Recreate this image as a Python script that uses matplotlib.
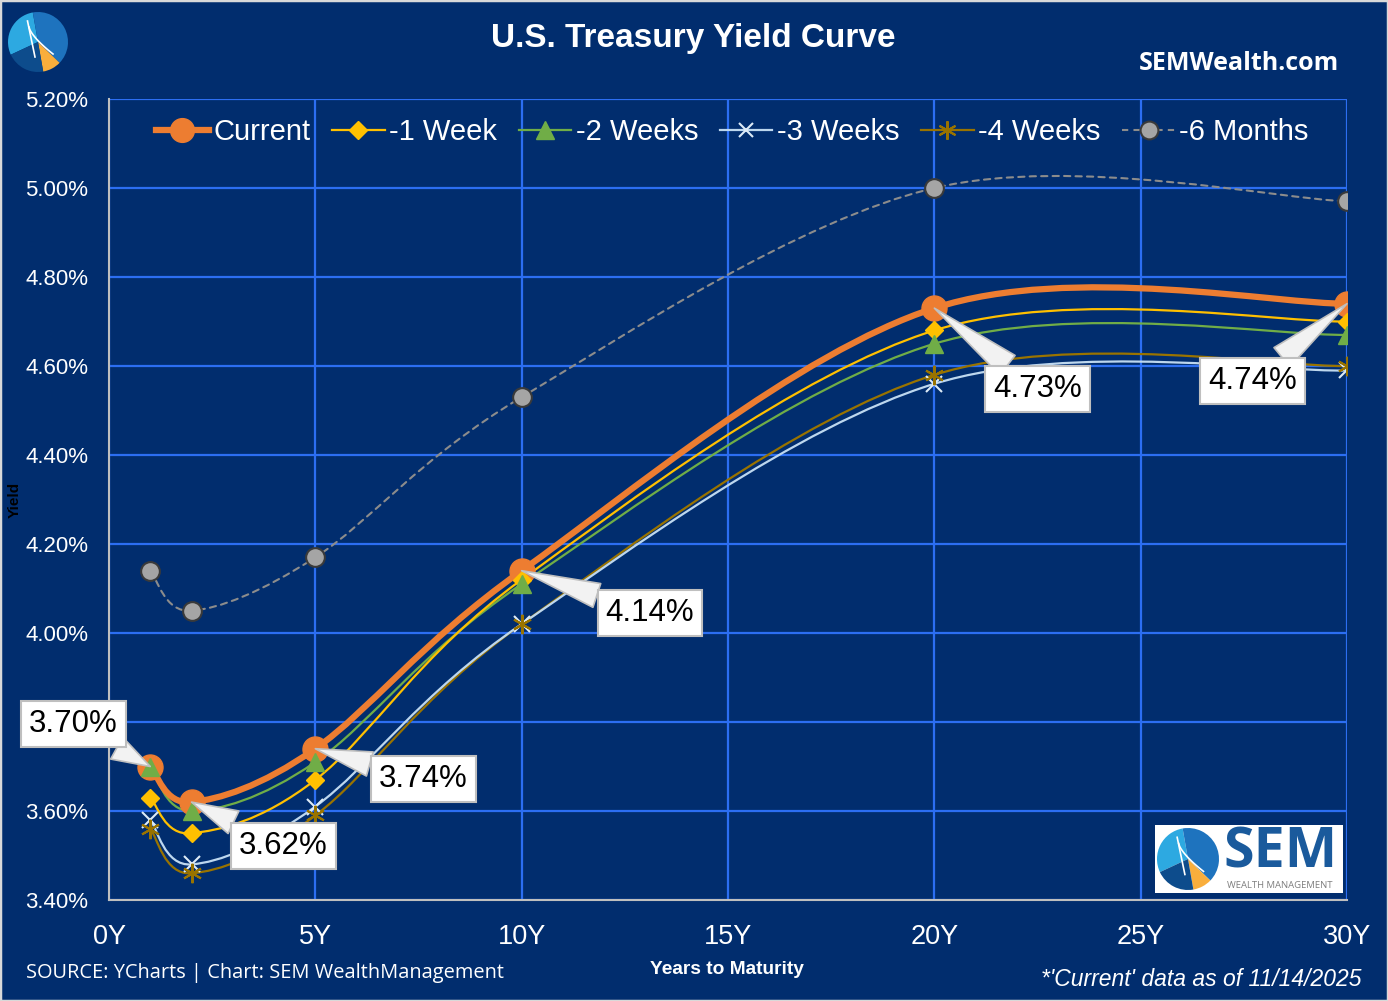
import matplotlib
matplotlib.use("Agg")
import matplotlib.pyplot as plt
import numpy as np
from matplotlib.path import Path
from matplotlib.patches import PathPatch, Wedge, Rectangle
from matplotlib.lines import Line2D

# ---------------- data ----------------
maturities = [1, 2, 5, 10, 20, 30]
current = [3.70, 3.62, 3.74, 4.14, 4.73, 4.74]
week1 = [3.63, 3.55, 3.67, 4.12, 4.68, 4.70]
week2 = [3.70, 3.60, 3.71, 4.11, 4.65, 4.67]
week3 = [3.58, 3.48, 3.61, 4.02, 4.56, 4.59]
week4 = [3.56, 3.46, 3.59, 4.02, 4.58, 4.60]
month6 = [4.14, 4.05, 4.17, 4.53, 5.00, 4.97]
series_names = ["Current", "-1 Week", "-2 Weeks", "-3 Weeks", "-4 Weeks", "-6 Months"]
x_ticks = [0, 5, 10, 15, 20, 25, 30]
x_tick_labels = ["0Y", "5Y", "10Y", "15Y", "20Y", "25Y", "30Y"]
y_ticks = [3.40, 3.60, 3.80, 4.00, 4.20, 4.40, 4.60, 4.80, 5.00, 5.20]

BG = "#012D6E"
GRID = "#2C6EF2"
FONT = "Liberation Sans"

fig = plt.figure(figsize=(13.88, 10.01), dpi=100, facecolor=BG)
fig.patches.append(Rectangle((0, 0), 1, 1, transform=fig.transFigure, fill=False,
                             ec="#D9D9D9", lw=2.5, zorder=100))
ax = fig.add_axes([109 / 1388, 101 / 1001, 1238 / 1388, 801 / 1001])
ax.set_facecolor(BG)
ax.set_xlim(0, 30)
ax.set_ylim(3.40, 5.20)
ax.set_xticks(x_ticks)
ax.set_xticklabels(x_tick_labels, fontsize=19.5, color="white", family=FONT)
ax.set_yticks(y_ticks)
ax.set_yticklabels([f"{v:.2f}%" for v in y_ticks], fontsize=16, color="white", family=FONT)
ax.tick_params(axis="both", length=0)
ax.tick_params(axis="x", pad=17.5)
ax.tick_params(axis="y", pad=15)
ax.grid(True, color=GRID, linewidth=1.6, zorder=0)
ax.set_axisbelow(True)
for s in ["top", "right"]:
    ax.spines[s].set_visible(False)
for s in ["left", "bottom"]:
    ax.spines[s].set_color("#BFBFBF")
    ax.spines[s].set_linewidth(1.5)
    ax.spines[s].set_zorder(1)


def smooth_path(xs, ys):
    pts = np.column_stack([xs, ys]).astype(float)
    n = len(pts)
    verts = [pts[0]]
    codes = [Path.MOVETO]
    for i in range(n - 1):
        p0 = pts[i - 1] if i > 0 else pts[i]
        p1 = pts[i]
        p2 = pts[i + 1]
        p3 = pts[i + 2] if i + 2 < n else pts[i + 1]
        c1 = p1 + (p2 - p0) / 6.0
        c2 = p2 - (p3 - p1) / 6.0
        verts += [c1, c2, p2]
        codes += [Path.CURVE4] * 3
    return Path(verts, codes)


styles = [
    # data, line color, lw, ls, marker, ms, mfc, mec, mew
    (month6, "#8C8C8C", 1.5, (0, (3, 2.5)), "o", 13.5, "#A5A5A5", "#3A3A3A", 1.5),
    (week4, "#997300", 1.6, "-", (6, 2, 0), 14, "#997300", "#997300", 1.5),
    (week3, "#BDD7EE", 1.6, "-", "x", 11, "#DDEBF7", "#DDEBF7", 1.5),
    (week2, "#70AD47", 1.6, "-", "^", 13, "#70AD47", "#70AD47", 1),
    (week1, "#FFC000", 1.6, "-", "D", 9.5, "#FFC000", "#FFC000", 1),
    (current, "#ED7D31", 4.5, "-", "o", 18, "#ED7D31", "#ED7D31", 1),
]
names_in_style_order = ["-6 Months", "-4 Weeks", "-3 Weeks", "-2 Weeks", "-1 Week", "Current"]

handles = {}
for z, (data, col, lw, ls, mk, ms, mfc, mec, mew) in enumerate(styles):
    patch = PathPatch(smooth_path(maturities, data), fill=False, edgecolor=col,
                      linewidth=lw, linestyle=ls, zorder=3 + z * 0.1, capstyle="round")
    ax.add_patch(patch)
marker_order = [5, 4, 3, 2, 1, 0]
for k, idx in enumerate(marker_order):
    data, col, lw, ls, mk, ms, mfc, mec, mew = styles[idx]
    ax.plot(maturities, data, linestyle="none", marker=mk, markersize=ms,
            markerfacecolor=mfc, markeredgecolor=mec, markeredgewidth=mew, zorder=5 + k * 0.1)
for idx, nm in enumerate(names_in_style_order):
    data, col, lw, ls, mk, ms, mfc, mec, mew = styles[idx]
    handles[nm] = Line2D([], [], color=col, linewidth=lw, linestyle=ls, marker=mk,
                         markersize=ms * 0.95, markerfacecolor=mfc, markeredgecolor=mec,
                         markeredgewidth=mew)

leg = ax.legend([handles[n] for n in series_names], series_names, loc="center",
                bbox_to_anchor=(0.5035, 0.959), ncol=6, frameon=False,
                prop={"family": FONT, "size": 21}, handlelength=1.8,
                handletextpad=0.15, columnspacing=0.75, borderaxespad=0)
for t in leg.get_texts():
    t.set_color("white")

# callout labels for current
label_pos = [(-0.87, 3.795), (4.22, 3.521), (7.61, 3.672), (13.11, 4.045), (22.51, 4.548), (27.72, 4.566)]
for xv, yv, (tx, ty) in zip(maturities, current, label_pos):
    ax.annotate(f"{yv:.2f}%", xy=(xv, yv), xytext=(tx, ty), ha="center", va="center",
                fontsize=22.5, family=FONT, color="black", annotation_clip=False, zorder=10,
                bbox=dict(boxstyle="square,pad=0.26", fc="white", ec="#BFBFBF", lw=1.5),
                arrowprops=dict(arrowstyle="wedge,tail_width=0.8,shrink_factor=0.5",
                                fc="#F2F2F2", ec="#BFBFBF", lw=1.2, shrinkA=0, shrinkB=0))

# titles and texts
fig.text(0.4993, 0.962, "U.S. Treasury Yield Curve", ha="center", va="center",
         fontsize=24, fontweight="bold", color="white", family=FONT)
fig.text(0.9647, 0.937, "SEMWealth.com", ha="right", va="center",
         fontsize=18, fontweight="bold", color="white", family="Open Sans")
fig.text(0.0187, 0.028, "SOURCE: YCharts | Chart: SEM WealthManagement", ha="left", va="center",
         fontsize=14.4, color="white", family="Open Sans")
fig.text(0.524, 0.031, "Years to Maturity", ha="center", va="center",
         fontsize=13.8, fontweight="bold", color="white", family=FONT)
fig.text(0.981, 0.021, "*'Current' data as of 11/14/2025", ha="right", va="center",
         fontsize=16.5, fontstyle="italic", color="white", family=FONT)
fig.text(0.0108, 0.5005, "Yield", ha="center", va="center", rotation=90,
         fontsize=11, fontweight="bold", color="black", family=FONT)


def draw_logo(lax):
    lax.set_xlim(-1, 1)
    lax.set_ylim(-1, 1)
    lax.set_aspect("equal")
    lax.axis("off")
    lax.add_patch(Wedge((0, 0), 1, 100, 205, fc="#2DA9E1", ec="none"))
    lax.add_patch(Wedge((0, 0), 1, -44, 100, fc="#1E73BE", ec="none"))
    lax.add_patch(Wedge((0, 0), 1, -80, -44, fc="#F9AE3C", ec="none"))
    lax.add_patch(Wedge((0, 0), 1, 205, 280, fc="#0D4C8C", ec="none"))
    t = np.linspace(0, 1, 30)
    lax.plot(-0.35 + 0.25 * t, 0.7 - 1.2 * t, color="white", lw=1.2)
    lax.plot(-0.3 + 0.8 * t, 0.5 - 0.9 * t ** 0.7, color="white", lw=1.2)


lax1 = fig.add_axes([8 / 1388, 1 - 73 / 1001, 60 / 1388, 62 / 1001])
draw_logo(lax1)

# bottom-right logo box
bx = fig.add_axes([1155 / 1388, 1 - 893 / 1001, 188 / 1388, 68 / 1001])
bx.set_xlim(0, 188)
bx.set_ylim(0, 68)
bx.axis("off")
bx.add_patch(Rectangle((0, 0), 188, 68, fc="white", ec="none"))
bx.text(68, 40, "SEM", fontsize=40, fontweight="bold", color="#1A5A9C", family="Open Sans",
        ha="left", va="center")
bx.text(72, 8, "WEALTH MANAGEMENT", fontsize=6.8, color="#7F7F7F", family="Open Sans",
        ha="left", va="center")
lax2 = fig.add_axes([1157 / 1388, 1 - 890 / 1001, 62 / 1388, 62 / 1001])
draw_logo(lax2)

fig.savefig("out.png", dpi=100, facecolor=BG)
